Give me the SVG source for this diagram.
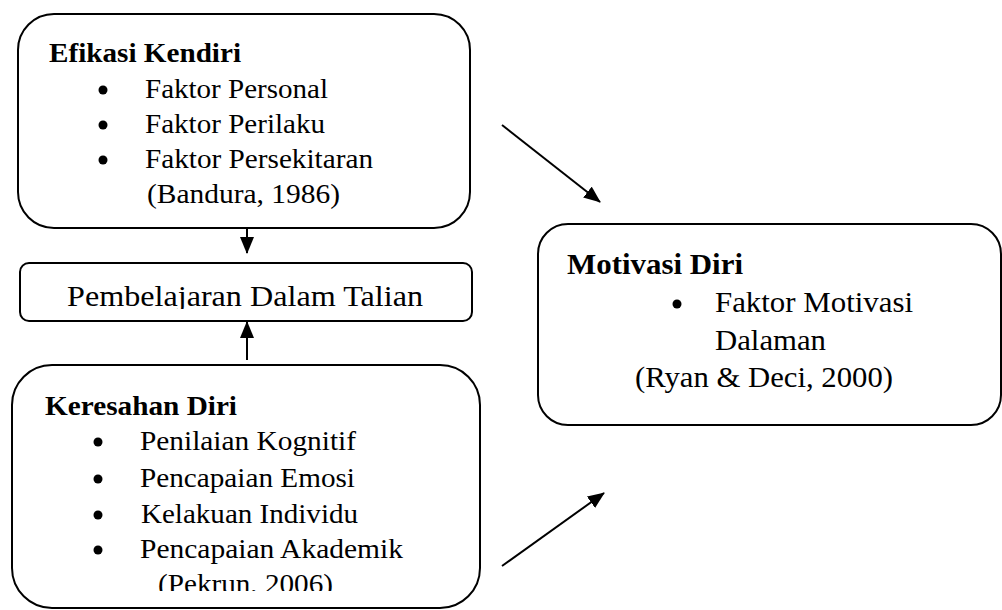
<svg xmlns="http://www.w3.org/2000/svg" width="1002" height="610" viewBox="0 0 1002 610">
<style>
.box{fill:#fff;stroke:#000;stroke-width:2}
.t{font-family:"Times New Roman","Liberation Serif",Tinos,serif;font-size:28px;fill:#000}
.l{font-size:29px}
.b{font-weight:bold}
.bul{fill:#000}
.con{stroke:#000;stroke-width:2;fill:none}
</style>
<defs>
<marker id="ah" viewBox="0 0 17 14" refX="16" refY="7" markerWidth="17" markerHeight="14" markerUnits="userSpaceOnUse" orient="auto">
<path d="M0,0 L17,7 L0,14 Z" fill="#000"/>
</marker>
<clipPath id="c1"><rect x="0" y="0" width="1002" height="309"/></clipPath>
<clipPath id="c2"><rect x="0" y="0" width="1002" height="591"/></clipPath>
</defs>
<rect width="1002" height="610" fill="#fff"/>
<g id="efikasi">
<rect class="box" x="18" y="14" width="452" height="214" rx="36" ry="36"/>
<text class="t b" x="49" y="62" textLength="192" lengthAdjust="spacingAndGlyphs">Efikasi Kendiri</text>
<circle class="bul" cx="103" cy="90" r="4.5"/>
<text class="t" x="145" y="98" textLength="183" lengthAdjust="spacingAndGlyphs">Faktor Personal</text>
<circle class="bul" cx="103" cy="125" r="4.5"/>
<text class="t" x="145" y="133" textLength="180" lengthAdjust="spacingAndGlyphs">Faktor Perilaku</text>
<circle class="bul" cx="103" cy="160" r="4.5"/>
<text class="t" x="145" y="168" textLength="228" lengthAdjust="spacingAndGlyphs">Faktor Persekitaran</text>
<text class="t" x="147" y="203" textLength="193" lengthAdjust="spacingAndGlyphs">(Bandura, 1986)</text>
</g>
<g id="pembelajaran">
<rect class="box" x="20" y="263" width="452" height="58" rx="9" ry="9"/>
<text class="t l" x="67" y="306" textLength="356" lengthAdjust="spacingAndGlyphs" clip-path="url(#c1)">Pembelajaran Dalam Talian</text>
</g>
<g id="keresahan">
<rect class="box" x="12" y="365" width="468" height="243" rx="40" ry="40"/>
<text class="t b" x="45" y="415" textLength="192" lengthAdjust="spacingAndGlyphs">Keresahan Diri</text>
<circle class="bul" cx="98" cy="442" r="4.5"/>
<text class="t" x="140" y="450" textLength="216" lengthAdjust="spacingAndGlyphs">Penilaian Kognitif</text>
<circle class="bul" cx="98" cy="479" r="4.5"/>
<text class="t" x="140" y="487" textLength="215" lengthAdjust="spacingAndGlyphs">Pencapaian Emosi</text>
<circle class="bul" cx="98" cy="515" r="4.5"/>
<text class="t" x="141" y="523" textLength="217" lengthAdjust="spacingAndGlyphs">Kelakuan Individu</text>
<circle class="bul" cx="98" cy="550" r="4.5"/>
<text class="t" x="140" y="558" textLength="263" lengthAdjust="spacingAndGlyphs">Pencapaian Akademik</text>
<text class="t" x="158" y="593" textLength="175" lengthAdjust="spacingAndGlyphs" clip-path="url(#c2)">(Pekrun, 2006)</text>
</g>
<g id="motivasi">
<rect class="box" x="538" y="224" width="463" height="201" rx="30" ry="30"/>
<text class="t l b" x="567" y="274" textLength="176" lengthAdjust="spacingAndGlyphs">Motivasi Diri</text>
<circle class="bul" cx="677" cy="304" r="4.5"/>
<text class="t l" x="715" y="312" textLength="198" lengthAdjust="spacingAndGlyphs">Faktor Motivasi</text>
<text class="t l" x="715" y="350" textLength="111" lengthAdjust="spacingAndGlyphs">Dalaman</text>
<text class="t l" x="635" y="387" textLength="258" lengthAdjust="spacingAndGlyphs">(Ryan &amp; Deci, 2000)</text>
</g>
<g id="connectors">
<line class="con" x1="247" y1="228" x2="247" y2="253" marker-end="url(#ah)"/>
<line class="con" x1="247" y1="360" x2="247" y2="322" marker-end="url(#ah)"/>
<line class="con" x1="502" y1="125" x2="600" y2="202" marker-end="url(#ah)"/>
<line class="con" x1="502" y1="566" x2="604" y2="493" marker-end="url(#ah)"/>
</g>
</svg>
